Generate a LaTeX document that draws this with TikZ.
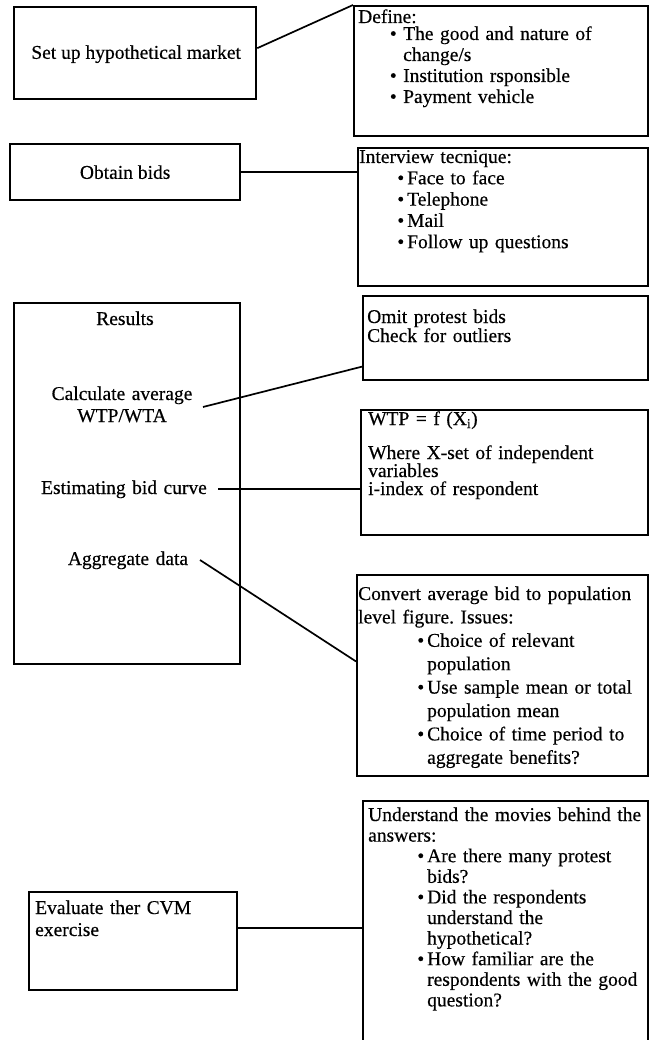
\documentclass[tikz,border=0pt]{standalone}
\usepackage{fontspec}
\setmainfont{Liberation Serif}[FakeBold=0.4]
\usetikzlibrary{calc}
\frenchspacing
\newcommand\bitem[2]{\hspace*{#1}\llap{\textbullet\hspace{#2}}}
\newcommand\cind[1]{\hspace*{#1}}
\begin{document}
\begin{tikzpicture}[x=1pt,y=-1pt,
  box/.style={draw, line width=2.3pt, inner sep=0pt, anchor=north west},
  conn/.style={line width=1.7pt},
  txt/.style={inner sep=0pt, anchor=base west, align=left, text width=285pt, font=\fontsize{19.5}{21}\selectfont},
  ctr/.style={inner sep=0pt, anchor=base, align=center, text width=200pt, font=\fontsize{19.5}{22}\selectfont},
  mid/.style={inner sep=0pt, anchor=center, font=\fontsize{19.5}{22}\selectfont}]
\useasboundingbox[fill=white] (0,0) rectangle (649,1040);

% boxes
\node[box, minimum width=242pt, minimum height=92pt]  (A) at (13,6) {};
\node[box, minimum width=294pt, minimum height=130pt] (B) at (353,5) {};
\node[box, minimum width=230pt, minimum height=56pt]  (C) at (9,143) {};
\node[box, minimum width=290pt, minimum height=138pt] (D) at (357,147) {};
\node[box, minimum width=226pt, minimum height=361pt] (E) at (13,302) {};
\node[box, minimum width=285pt, minimum height=84pt]  (F) at (362,295) {};
\node[box, minimum width=287pt, minimum height=125pt] (G) at (360,409) {};
\node[box, minimum width=291pt, minimum height=201pt] (H) at (356,574) {};
\node[box, minimum width=208pt, minimum height=98pt]  (I) at (28,891) {};
\node[box, minimum width=285pt, minimum height=252pt] (J) at (362,800) {};

% texts
\node[mid] (tA) at ($(A.center)+(1,1)$) {Set up hypothetical market};
\node[mid] (tC) at (C.center) {Obtain bids};

\node[txt] (tB1) at (358,23) {Define:};
\node[txt] (tB2) at (358,40) {\bitem{45pt}{6.5pt}The good and nature of\\\cind{45pt}change/s\\\bitem{45pt}{6.5pt}Institution rsponsible\\\bitem{45pt}{6.5pt}Payment vehicle};

\node[txt, font=\fontsize{19.5}{21.3}\selectfont] (tD) at (359,163) {Interview tecnique:\\\bitem{48pt}{3pt}Face to face\\\bitem{48pt}{3pt}Telephone\\\bitem{48pt}{3pt}Mail\\\bitem{48pt}{3pt}Follow up questions};

\node[ctr] (tRes) at (125,325) {Results};
\node[ctr] (tCalc) at (122,400) {Calculate average\\WTP/WTA};
\node[ctr] (tEst) at (124,494) {Estimating bid curve};
\node[ctr] (tAgg) at (128,565) {Aggregate data};

\node[txt, font=\fontsize{19.5}{19}\selectfont] (tF) at (367,323) {Omit protest bids\\Check for outliers};

\node[txt] (tG1) at (368,425) {WTP = f (X\textsubscript{i})};
\node[txt, font=\fontsize{19.5}{18}\selectfont] (tG2) at (368,459) {Where X-set of independent\\variables\\i-index of respondent};

\node[txt, font=\fontsize{19.5}{23.4}\selectfont] (tH) at (358,600) {Convert average bid to population\\level figure. Issues:\\\bitem{69pt}{3pt}Choice of relevant\\\cind{69pt}population\\\bitem{69pt}{3pt}Use sample mean or total\\\cind{69pt}population mean\\\bitem{69pt}{3pt}Choice of time period to\\\cind{69pt}aggregate benefits?};

\node[txt, text width=190pt, font=\fontsize{19.5}{22}\selectfont] (tI) at (35,914) {Evaluate ther CVM\\exercise};

\node[txt, font=\fontsize{19.5}{20.6}\selectfont] (tJ) at (368,821) {Understand the movies behind the\\answers:\\\bitem{59pt}{3pt}Are there many protest\\\cind{59pt}bids?\\\bitem{59pt}{3pt}Did the respondents\\\cind{59pt}understand the\\\cind{59pt}hypothetical?\\\bitem{59pt}{3pt}How familiar are the\\\cind{59pt}respondents with the good\\\cind{59pt}question?};

% connectors
\draw[conn] ([yshift=5pt]A.east) -- (B.north west);
\draw[conn] (C.east) -- (C.east -| D.west);
\coordinate (cCalc) at (203,407);
\draw[conn] (cCalc) -- ($(F.north west)!0.83!(F.south west)$);
\coordinate (cEst) at (218,489);
\draw[conn] (cEst) -- (cEst -| G.west);
\coordinate (cAgg) at (200,560);
\draw[conn] (cAgg) -- ($(H.north west)!0.43!(H.south west)$);
\draw[conn] ([yshift=13pt]I.east) -- ([yshift=13pt]I.east -| J.west);
\end{tikzpicture}
\end{document}
